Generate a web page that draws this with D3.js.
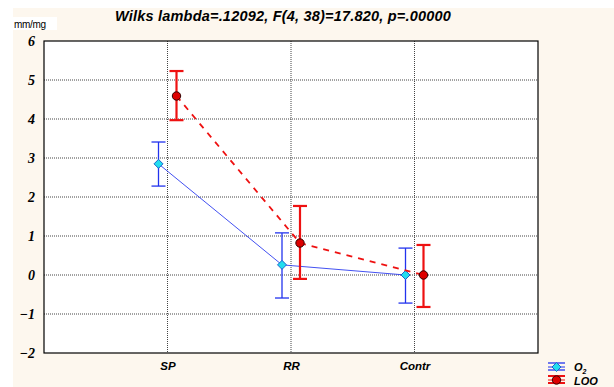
<!DOCTYPE html>
<html><head><meta charset="utf-8">
<script src="https://cdn.jsdelivr.net/npm/d3@7"></script>
<style>body{margin:0;background:#fff}svg{display:block}</style>
</head><body>
<svg id="c" width="614" height="387"></svg>
<script>
const categories = ["SP", "RR", "Contr"];
const o2Mean  = [2.85, 0.26, 0.00];
const o2Upper = [3.41, 1.08, 0.69];
const o2Lower = [2.28, -0.59, -0.72];
const looMean  = [4.59, 0.82, 0.00];
const looUpper = [5.23, 1.77, 0.77];
const looLower = [3.97, -0.10, -0.82];
const yTicks = [-2, -1, 0, 1, 2, 3, 4, 5, 6];
const title = "Wilks lambda=.12092, F(4, 38)=17.820, p=.00000";
const yUnit = "mm/mg";

const svg = d3.select("#c");
svg.append("rect").attr("x",13).attr("y",8).attr("width",601).attr("height",379).attr("fill","#fdf7ee");

const L=44, R=538, T=41, B=353;
const x = d3.scaleLinear().domain([0,4]).range([L,R]);
const y = d3.scaleLinear().domain([-2,6]).range([B,T]);

svg.append("rect").attr("x",L).attr("y",T).attr("width",R-L).attr("height",B-T).attr("fill","#fff");

// grid
const g = svg.append("g");
g.selectAll(".hg").data(yTicks.filter(d=>d>-2&&d<6)).join("line")
  .attr("x1",L).attr("x2",R).attr("y1",d=>y(d)).attr("y2",d=>y(d))
  .attr("stroke","#444").attr("stroke-width",1).attr("stroke-dasharray","1,1");
g.selectAll(".vg").data(categories).join("line")
  .attr("x1",(d,i)=>x(i+1)).attr("x2",(d,i)=>x(i+1)).attr("y1",T).attr("y2",B)
  .attr("stroke","#444").attr("stroke-width",1).attr("stroke-dasharray","1,1");

svg.append("rect").attr("x",L).attr("y",T).attr("width",R-L).attr("height",B-T)
  .attr("fill","none").attr("stroke","#000").attr("stroke-width",1.2);

// y axis labels
const yAxis = d3.axisLeft(y).tickValues(yTicks).tickSize(0).tickPadding(9).tickFormat(d3.format("d"));
const ya = svg.append("g").attr("transform",`translate(${L},0)`).call(yAxis);
ya.select(".domain").remove();
ya.selectAll("text").attr("font-family","Liberation Serif, Times New Roman, serif")
  .attr("font-weight","bold").attr("font-style","italic").attr("font-size",14).attr("fill","#000");

// x axis labels
const xAxis = d3.axisBottom(x).tickValues([1,2,3]).tickSize(0).tickPadding(9).tickFormat(d=>categories[d-1]);
const xa = svg.append("g").attr("transform",`translate(0,${B})`).call(xAxis);
xa.select(".domain").remove();
xa.selectAll("text").attr("font-family","Liberation Sans, Arial, sans-serif")
  .attr("font-weight","bold").attr("font-style","italic").attr("font-size",11.5).attr("fill","#000");

// title & unit
svg.append("text").attr("x",283).attr("y",21).attr("text-anchor","middle")
  .attr("font-family","Liberation Sans, Arial, sans-serif").attr("font-weight","bold").attr("font-style","italic")
  .attr("font-size",14.5).attr("letter-spacing",0.2).attr("fill","#000").text(title);
svg.append("rect").attr("x",13).attr("y",17).attr("width",44).attr("height",13).attr("fill","#fff");
svg.append("text").attr("x",14).attr("y",28)
  .attr("font-family","Liberation Sans, Arial, sans-serif").attr("font-size",10).attr("letter-spacing",-0.3).attr("fill","#000").text(yUnit);

function series(mean, up, lo, off, color, lw, cap, dash, pointFn) {
  const s = svg.append("g");
  const pts = mean.map((m,i)=>[x(i+1)+off, y(m)]);
  s.append("path").attr("d", d3.line()(pts)).attr("fill","none")
    .attr("stroke",color).attr("stroke-width",dash? 1.8 : 1).attr("stroke-dasharray",dash||null)
    .attr("opacity", dash?1:0.85);
  mean.forEach((m,i)=>{
    const cx = x(i+1)+off;
    s.append("line").attr("x1",cx).attr("x2",cx).attr("y1",y(up[i])).attr("y2",y(lo[i])).attr("stroke",color).attr("stroke-width",lw);
    [up[i],lo[i]].forEach(v=>s.append("line").attr("x1",cx-cap).attr("x2",cx+cap).attr("y1",y(v)).attr("y2",y(v)).attr("stroke",color).attr("stroke-width",lw));
  });
  pts.forEach(p=>pointFn(s,p[0],p[1]));
}
const diamond = (s,cx,cy)=>s.append("path").attr("d",`M${cx},${cy-4.5}L${cx+4.5},${cy}L${cx},${cy+4.5}L${cx-4.5},${cy}Z`)
  .attr("fill","#22ddee").attr("stroke","#1a66cc").attr("stroke-width",1);
const circle = (s,cx,cy)=>s.append("circle").attr("cx",cx).attr("cy",cy).attr("r",4.2)
  .attr("fill","#dd0000").attr("stroke","#330000").attr("stroke-width",1);

series(o2Mean,o2Upper,o2Lower,-9,"#2233ee",1.3,7,null,diamond);
series(looMean,looUpper,looLower,9,"#ee1111",2.2,7,"6,6",circle);

// legend
const lg = svg.append("g");
const lx=548, lw=17;
[[367,"#2233ee",diamond,1.3],[380,"#ee1111",circle,2]].forEach(([ly,c,fn,w])=>{
  lg.append("line").attr("x1",lx).attr("x2",lx+lw).attr("y1",ly-4).attr("y2",ly-4).attr("stroke",c).attr("stroke-width",w);
  lg.append("line").attr("x1",lx).attr("x2",lx+lw).attr("y1",ly+3).attr("y2",ly+3).attr("stroke",c).attr("stroke-width",w);
  lg.append("line").attr("x1",lx).attr("x2",lx+lw).attr("y1",ly).attr("y2",ly).attr("stroke",c).attr("stroke-width",1);
  fn(lg,lx+lw/2,ly);
});
const t1 = lg.append("text").attr("x",574).attr("y",371).attr("font-family","Liberation Sans, Arial, sans-serif")
  .attr("font-weight","bold").attr("font-style","italic").attr("font-size",11).attr("fill","#000");
t1.append("tspan").text("O");
t1.append("tspan").attr("font-size",7).attr("dy",3).text("2");
lg.append("text").attr("x",574).attr("y",385).attr("font-family","Liberation Sans, Arial, sans-serif")
  .attr("font-weight","bold").attr("font-style","italic").attr("font-size",11).attr("fill","#000").text("LOO");
</script>
</body></html>
